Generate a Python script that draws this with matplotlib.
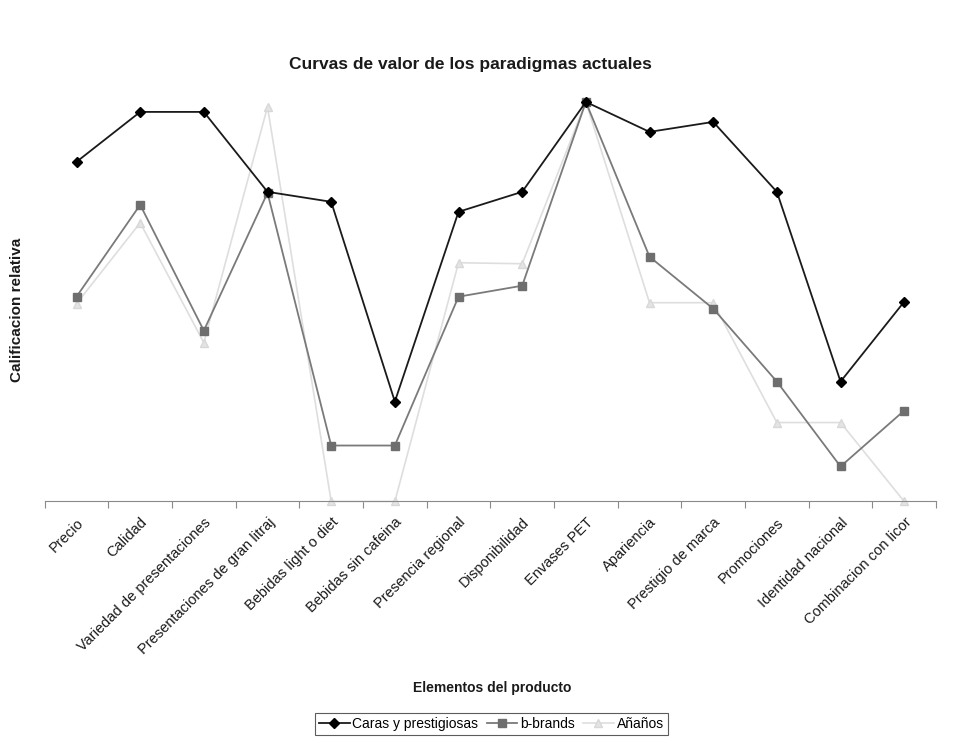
import matplotlib
matplotlib.use("Agg")
import matplotlib.pyplot as plt

plt.rcParams['font.family'] = ['Liberation Sans', 'DejaVu Sans']

categorias = ["Precio", "Calidad", "Variedad de presentaciones",
              "Presentaciones de gran litraj", "Bebidas light o diet",
              "Bebidas sin cafeina", "Presencia regional", "Disponibilidad",
              "Envases PET", "Apariencia", "Prestigio de marca", "Promociones",
              "Identidad nacional", "Combinacion con licor"]

caras = [3.4, 3.9, 3.9, 3.1, 3.0, 1.0, 2.9, 3.1, 4.0, 3.7, 3.8, 3.1, 1.2, 2.0]
b_brands = [2.05, 2.97, 1.71, 3.09, 0.56, 0.56, 2.05, 2.16, 4.0, 2.45, 1.93, 1.2, 0.35, 0.91]
ananos = [1.98, 2.79, 1.59, 3.95, 0.0, 0.0, 2.39, 2.38, 4.0, 1.99, 1.99, 0.79, 0.79, 0.0]

fig = plt.figure(figsize=(9.71, 7.44), dpi=100)
ax = fig.add_axes([0.046, 0.326, 0.918, 0.537])

x = range(len(categorias))
ax.plot(x, ananos, color="#dedede", marker="^", markersize=6, lw=1.2,
        markerfacecolor="#e4e4e4", markeredgecolor="#d8d8d8", label="Añaños", clip_on=False)
ax.plot(x, b_brands, color="#7a7a7a", marker="s", markersize=6, lw=1.3,
        markerfacecolor="#6e6e6e", markeredgecolor="#6e6e6e", label="b-brands", clip_on=False)
ax.plot(x, caras, color="#1a1a1a", marker="D", markersize=5, lw=1.3,
        markerfacecolor="black", markeredgecolor="black", label="Caras y prestigiosas", clip_on=False)

ax.set_xlim(-0.5, len(categorias) - 0.5)
ax.set_ylim(0, 4.0)

for s in ["top", "right", "left"]:
    ax.spines[s].set_visible(False)
ax.spines["bottom"].set_color("#8a8a8a")
ax.set_yticks([])

# tick marks sit between categories, labels at the centres
ax.set_xticks([i - 0.5 for i in range(len(categorias) + 1)])
ax.set_xticklabels([])
ax.tick_params(axis="x", direction="out", length=5, color="#8a8a8a")
ax.set_xticks(list(x), minor=True)
ax.set_xticklabels(categorias, minor=True, rotation=45, ha="right",
                   rotation_mode="anchor", fontsize=10.5, color="#1a1a1a")
ax.tick_params(axis="x", which="minor", length=0, pad=10)

fig.text(0.484, 0.913, "Curvas de valor de los paradigmas actuales",
         ha="center", va="center", fontsize=12.5, fontweight="bold", color="#1a1a1a")
fig.text(0.507, 0.075, "Elementos del producto", ha="center", va="center",
         fontsize=10, fontweight="bold", color="#1a1a1a")
fig.text(0.018, 0.583, "Calificacion relativa", ha="center", va="center",
         rotation=90, fontsize=11, fontweight="bold", color="#1a1a1a")

handles, labels = ax.get_legend_handles_labels()
leg = fig.legend(handles[::-1], labels[::-1], loc="center", bbox_to_anchor=(0.506, 0.027),
                 ncol=3, fontsize=10, frameon=True, fancybox=False, handlelength=2.2,
                 handletextpad=0.2, columnspacing=0.6, borderpad=0.3)
leg.get_frame().set_edgecolor("#333333")
leg.get_frame().set_linewidth(0.8)

fig.savefig("out.png", dpi=100, facecolor="white")
